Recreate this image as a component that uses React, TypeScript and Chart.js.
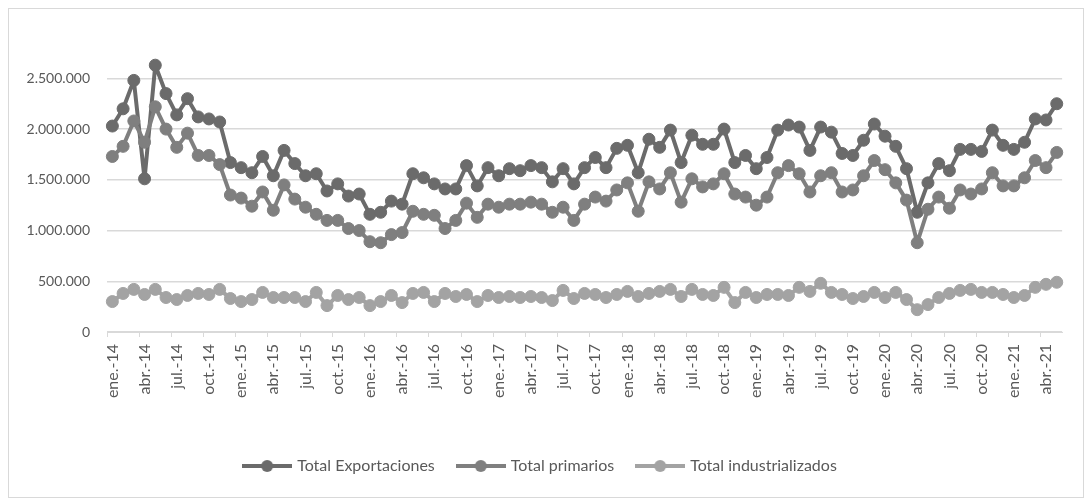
import React, { useEffect, useRef } from 'react';
import { Chart, registerables } from 'chart.js';

Chart.register(...registerables);

const MONTHS = ['ene.', 'feb.', 'mar.', 'abr.', 'may.', 'jun.', 'jul.', 'ago.', 'sep.', 'oct.', 'nov.', 'dic.'];
const YEARS = ['14', '15', '16', '17', '18', '19', '20', '21'];
const LAST_MONTH_2021 = 5; // data runs through may.-21

const categories: string[] = [];
YEARS.forEach((y, yi) => {
  MONTHS.forEach((m, mi) => {
    if (yi === YEARS.length - 1 && mi >= LAST_MONTH_2021) return;
    categories.push(`${m}-${y}`);
  });
});

const totalExportaciones = [
  2030000, 2200000, 2480000, 1510000, 2630000, 2350000, 2140000, 2300000, 2120000, 2100000, 2070000, 1670000,
  1620000, 1570000, 1730000, 1540000, 1790000, 1660000, 1540000, 1560000, 1390000, 1460000, 1340000, 1360000,
  1160000, 1180000, 1290000, 1260000, 1560000, 1520000, 1460000, 1410000, 1410000, 1640000, 1440000, 1620000,
  1540000, 1610000, 1590000, 1640000, 1620000, 1480000, 1610000, 1460000, 1620000, 1720000, 1620000, 1810000,
  1840000, 1570000, 1900000, 1820000, 1990000, 1670000, 1940000, 1850000, 1850000, 2000000, 1670000, 1740000,
  1610000, 1720000, 1990000, 2040000, 2020000, 1790000, 2020000, 1970000, 1760000, 1740000, 1890000, 2050000,
  1930000, 1830000, 1610000, 1180000, 1470000, 1660000, 1590000, 1800000, 1800000, 1780000, 1990000, 1840000,
  1800000, 1870000, 2100000, 2090000, 2250000,
];

const totalPrimarios = [
  1730000, 1830000, 2080000, 1870000, 2220000, 2000000, 1820000, 1960000, 1740000, 1740000, 1650000, 1350000,
  1320000, 1240000, 1380000, 1200000, 1450000, 1310000, 1230000, 1160000, 1100000, 1100000, 1020000, 1000000,
  890000, 880000, 960000, 980000, 1190000, 1160000, 1150000, 1020000, 1100000, 1270000, 1130000, 1260000,
  1230000, 1260000, 1260000, 1280000, 1260000, 1180000, 1230000, 1100000, 1260000, 1330000, 1290000, 1400000,
  1470000, 1190000, 1480000, 1410000, 1570000, 1280000, 1510000, 1430000, 1460000, 1560000, 1360000, 1330000,
  1250000, 1330000, 1570000, 1640000, 1560000, 1380000, 1540000, 1570000, 1380000, 1400000, 1540000, 1690000,
  1600000, 1470000, 1300000, 880000, 1210000, 1330000, 1220000, 1400000, 1360000, 1410000, 1570000, 1440000,
  1440000, 1520000, 1690000, 1620000, 1770000,
];

const totalIndustrializados = [
  300000, 380000, 420000, 370000, 420000, 340000, 320000, 360000, 380000, 370000, 420000, 330000,
  300000, 320000, 390000, 340000, 340000, 340000, 300000, 390000, 260000, 360000, 320000, 340000,
  260000, 300000, 360000, 290000, 380000, 390000, 300000, 380000, 350000, 370000, 300000, 360000,
  340000, 350000, 340000, 350000, 340000, 310000, 410000, 330000, 380000, 370000, 340000, 370000,
  400000, 350000, 380000, 400000, 420000, 350000, 420000, 370000, 360000, 440000, 290000, 390000,
  340000, 370000, 370000, 360000, 440000, 400000, 480000, 390000, 370000, 330000, 350000, 390000,
  340000, 390000, 320000, 220000, 270000, 340000, 380000, 410000, 420000, 390000, 390000, 370000,
  340000, 360000, 440000, 470000, 490000,
];

const SERIES_NAMES = ['Total Exportaciones', 'Total primarios', 'Total industrializados'];
const SERIES_COLORS = ['#6b6b6b', '#7f7f7f', '#a3a3a3'];
const Y_TICKS = [0, 500000, 1000000, 1500000, 2000000, 2500000];

const FONT = 'Lato, "Open Sans", sans-serif';

function fmt(v: number): string {
  return String(Math.round(v)).replace(/\B(?=(\d{3})+(?!\d))/g, '.');
}

function markerCanvas(color: string): HTMLCanvasElement {
  const c = document.createElement('canvas');
  c.width = 50;
  c.height = 14;
  const ctx = c.getContext('2d')!;
  ctx.strokeStyle = color;
  ctx.lineWidth = 4;
  ctx.beginPath();
  ctx.moveTo(0, 7);
  ctx.lineTo(50, 7);
  ctx.stroke();
  ctx.fillStyle = color;
  ctx.beginPath();
  ctx.arc(25, 7, 6, 0, Math.PI * 2);
  ctx.fill();
  return c;
}

export default function App() {
  const canvasRef = useRef<HTMLCanvasElement | null>(null);

  useEffect(() => {
    if (!canvasRef.current) return;
    const seriesData = [totalExportaciones, totalPrimarios, totalIndustrializados];
    const markers = SERIES_COLORS.map(markerCanvas);

    const chart = new Chart(canvasRef.current, {
      type: 'line',
      data: {
        labels: categories,
        datasets: seriesData.map((d, i) => ({
          label: SERIES_NAMES[i],
          data: d,
          borderColor: SERIES_COLORS[i],
          backgroundColor: SERIES_COLORS[i],
          pointBackgroundColor: SERIES_COLORS[i],
          pointBorderColor: SERIES_COLORS[i],
          borderWidth: 4,
          borderJoinStyle: 'round' as const,
          borderCapStyle: 'round' as const,
          pointRadius: 6,
          pointBorderWidth: 1,
          tension: 0,
          fill: false,
          order: 2 - i,
        })),
      },
      options: {
        animation: false,
        responsive: false,
        maintainAspectRatio: false,
        layout: { padding: { left: 0, right: 10, top: 44, bottom: 13 } },
        plugins: {
          tooltip: { enabled: false },
          legend: {
            position: 'bottom',
            labels: {
              usePointStyle: true,
              pointStyleWidth: 44,
              padding: 24,
              color: '#595959',
              font: { family: FONT, size: 16 },
              generateLabels: () =>
                SERIES_NAMES.map((name, i) => ({
                  text: name,
                  pointStyle: markers[i] as any,
                  fillStyle: SERIES_COLORS[i],
                  strokeStyle: SERIES_COLORS[i],
                  lineWidth: 0,
                  hidden: false,
                  datasetIndex: i,
                  fontColor: '#595959',
                })),
            },
          },
        },
        scales: {
          x: {
            type: 'category',
            offset: true,
            afterFit: (scale: any) => {
              scale.height = 102;
            },
            grid: {
              offset: true,
              drawOnChartArea: false,
              drawTicks: true,
              tickLength: 5,
              color: (ctx: any) => (ctx.index % 3 === 0 ? '#d9d9d9' : 'rgba(0,0,0,0)'),
            },
            border: { display: true, color: '#d9d9d9', width: 1 },
            ticks: {
              autoSkip: false,
              maxRotation: 90,
              minRotation: 90,
              padding: 7,
              color: '#595959',
              font: { family: FONT, size: 16 },
              callback: (_v: any, idx: number) => (idx % 3 === 0 ? categories[idx] : ''),
            },
          },
          y: {
            min: 0,
            max: 2750000,
            afterFit: (scale: any) => {
              scale.width = 98;
            },
            afterBuildTicks: (scale: any) => {
              scale.ticks = Y_TICKS.map((v) => ({ value: v }));
            },
            grid: { color: '#d9d9d9', lineWidth: 1.5, drawTicks: false },
            border: { display: false },
            ticks: {
              padding: 17,
              color: '#595959',
              font: { family: FONT, size: 14 },
              callback: (v: any) => fmt(Number(v)),
            },
          },
        },
      },
    });
    return () => chart.destroy();
  }, []);

  return (
    <div
      style={{
        width: 1076,
        height: 490,
        border: '1px solid #d9d9d9',
        boxSizing: 'border-box',
        background: '#fff',
      }}
    >
      <canvas ref={canvasRef} width={1074} height={488} style={{ display: 'block' }} />
    </div>
  );
}
